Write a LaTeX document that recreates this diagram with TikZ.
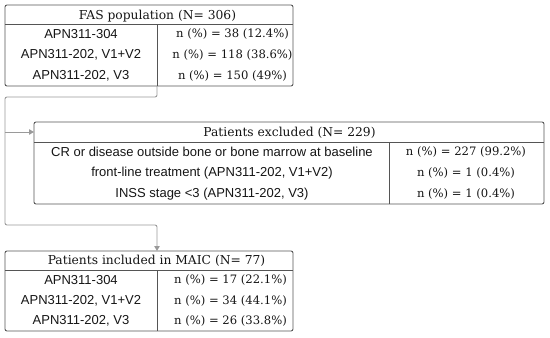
\documentclass[tikz,border=0pt]{standalone}
\usepackage{fontspec}
\setmainfont{DejaVu Serif}
\newfontfamily\sansf{Liberation Sans}
\usetikzlibrary{arrows.meta}
\definecolor{boxline}{HTML}{555555}
\definecolor{conn}{HTML}{9A9A9A}
\definecolor{ink}{HTML}{151515}
\begin{document}
\begin{tikzpicture}[x=1pt,y=-1pt,
 frame/.style={draw=boxline, line width=0.9pt, rounded corners=2pt, inner sep=0pt},
 rule/.style={draw=boxline, line width=0.9pt},
 ttl/.style={font=\fontsize{12.3}{13}\selectfont, text=ink, inner sep=0pt, text height=8.9pt, text depth=0pt},
 cell/.style={font=\sansf\fontsize{13}{14}\selectfont, text=ink, inner sep=0pt, text height=9.3pt, text depth=0pt},
 num/.style={font=\fontsize{11.6}{12}\selectfont, text=ink, inner sep=0pt, text height=8.4pt, text depth=0pt},
 link/.style={draw=conn, line width=0.9pt, rounded corners=2pt},
 tip/.style={-{Triangle[length=5pt,width=5.5pt]}}]
\useasboundingbox (0,0) rectangle (550,338);
% boxes
\node[frame, minimum width=288pt, minimum height=81pt] (fas) at (149,45.5) {};
\node[frame, minimum width=510pt, minimum height=82pt] (exc) at (289,163) {};
\node[frame, minimum width=288pt, minimum height=80pt] (inc) at (149,291) {};
% inner rules
\draw[rule] (5,24) -- (293,24);
\draw[rule] (157,24) -- (157,86);
\draw[rule] (34,142) -- (544,142);
\draw[rule] (389,142) -- (389,204);
\draw[rule] (5,270) -- (293,270);
\draw[rule] (157,270) -- (157,331);
% FAS
\node[ttl] (fast) at (157.5,15) {FAS population (N= 306)};
\node[cell] (fa1) at (81,33.5) {APN311-304};
\node[cell] (fa2) at (81,54) {APN311-202, V1+V2};
\node[cell] (fa3) at (81,75) {APN311-202, V3};
\node[num] (fn1) at (232.5,33.5) {n (\%) = 38 (12.4\%)};
\node[num] (fn2) at (232.5,54) {n (\%) = 118 (38.6\%)};
\node[num] (fn3) at (232.5,75) {n (\%) = 150 (49\%)};
% excluded
\node[ttl] (exct) at (289.5,132) {Patients excluded (N= 229)};
\node[cell] (ex1) at (212,151.5) {CR or disease outside bone or bone marrow at baseline};
\node[cell] (ex2) at (212,172) {front-line treatment (APN311-202, V1+V2)};
\node[cell] (ex3) at (212,193) {INSS stage <3 (APN311-202, V3)};
\node[num] (en1) at (466,151.5) {n (\%) = 227 (99.2\%)};
\node[num] (en2) at (466,172) {n (\%) = 1 (0.4\%)};
\node[num] (en3) at (466,193) {n (\%) = 1 (0.4\%)};
% included
\node[ttl] (inct) at (156.5,260.5) {Patients included in MAIC (N= 77)};
\node[cell] (in1) at (81,279.5) {APN311-304};
\node[cell] (in2) at (81,300) {APN311-202, V1+V2};
\node[cell] (in3) at (81,320) {APN311-202, V3};
\node[num] (nn1) at (230.5,279.5) {n (\%) = 17 (22.1\%)};
\node[num] (nn2) at (230.5,300) {n (\%) = 34 (44.1\%)};
\node[num] (nn3) at (230.5,320) {n (\%) = 26 (33.8\%)};
% connectors
\coordinate (fasout) at (157,86);
\coordinate (incin) at (157,251);
\coordinate (excin) at (34,132);
\coordinate (split) at (5,132);
\draw[link,tip] (fasout) -- (157,97) -| (5,225) -| (incin);
\draw[link,tip] (split) -- (excin);
\end{tikzpicture}
\end{document}
